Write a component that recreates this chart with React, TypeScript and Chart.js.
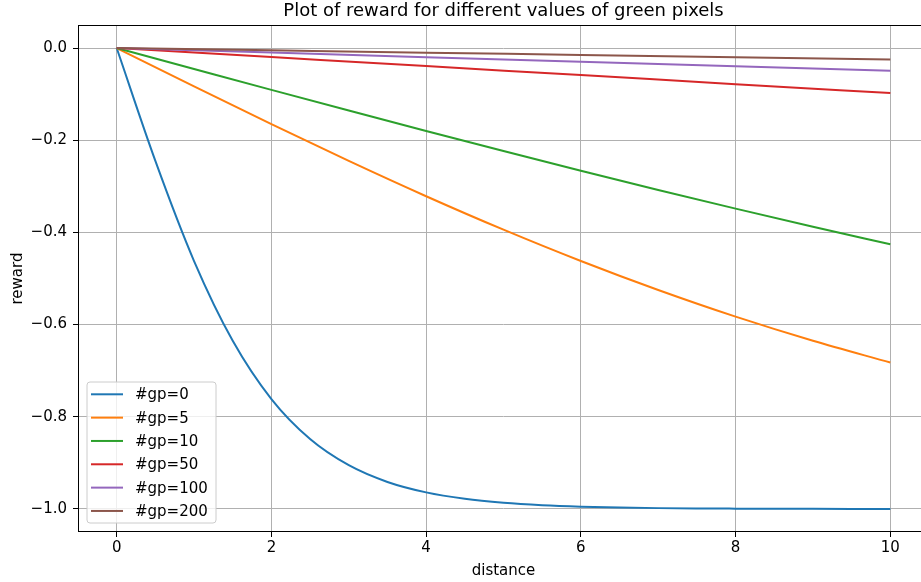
import React, { useEffect, useRef } from 'react';
import { Chart, registerables } from 'chart.js';

Chart.register(...registerables);

const chartTitle = 'Plot of reward for different values of green pixels';
const xAxisLabel = 'distance';
const yAxisLabel = 'reward';

const distanceFine = [0, 0.5, 1, 1.5, 2, 2.5, 3, 3.5, 4, 4.5, 5, 5.5, 6, 6.5, 7, 7.5, 8, 8.5, 9, 9.5, 10];
const rewardGp0 = [0, -0.2449, -0.4621, -0.6351, -0.7616, -0.8483, -0.9051, -0.9414, -0.964, -0.978, -0.9866, -0.9919, -0.9951, -0.997, -0.9982, -0.9989, -0.9993, -0.9996, -0.9998, -0.9999, -0.9999];

const distanceCoarse = [0, 1, 2, 3, 4, 5, 6, 7, 8, 9, 10];
const rewardGp5 = [0, -0.0831, -0.1651, -0.2449, -0.3215, -0.3941, -0.4621, -0.525, -0.5828, -0.6351, -0.6823];
const rewardGp10 = [0, -0.0454, -0.0907, -0.1355, -0.1798, -0.2234, -0.2662, -0.3079, -0.3484, -0.3877, -0.4256];

const distanceSparse = [0, 2, 4, 6, 8, 10];
const rewardGp50 = [0, -0.0196, -0.0392, -0.0587, -0.0783, -0.0977];
const rewardGp100 = [0, -0.0099, -0.0198, -0.0297, -0.0396, -0.0495];
const rewardGp200 = [0, -0.005, -0.01, -0.0149, -0.0199, -0.0249];

const seriesLabels = ['#gp=0', '#gp=5', '#gp=10', '#gp=50', '#gp=100', '#gp=200'];
const seriesColors = ['#1f77b4', '#ff7f0e', '#2ca02c', '#d62728', '#9467bd', '#8c564b'];
const seriesX = [distanceFine, distanceCoarse, distanceCoarse, distanceSparse, distanceSparse, distanceSparse];
const seriesY = [rewardGp0, rewardGp5, rewardGp10, rewardGp50, rewardGp100, rewardGp200];

const xTickValues = [0, 2, 4, 6, 8, 10];
const yTickValues = [0, -0.2, -0.4, -0.6, -0.8, -1.0];

const FONT = '"DejaVu Sans", sans-serif';

const framePlugin = {
  id: 'frameAndLegend',
  afterDatasetsDraw(chart: any) {
    const { ctx, chartArea } = chart;
    ctx.save();
    const l = Math.round(chartArea.left) + 0.5;
    const t = Math.round(chartArea.top) + 0.5;
    const rr = Math.round(chartArea.right) - 0.5;
    const b = Math.round(chartArea.bottom) - 0.5;
    ctx.strokeStyle = '#000000';
    ctx.lineWidth = 1;
    ctx.strokeRect(l, t, rr - l, b - t);

    // title centred over the axes
    ctx.fillStyle = '#000000';
    ctx.font = `18px ${FONT}`;
    ctx.textAlign = 'center';
    ctx.textBaseline = 'middle';
    ctx.fillText(chartTitle, (chartArea.left + chartArea.right) / 2, chartArea.top - 14);

    // legend (lower left, inside axes)
    const boxX = chartArea.left + 9;
    const boxW = 129;
    const boxH = 141;
    const boxY = chartArea.bottom - 9 - boxH;
    const r = 3;
    ctx.beginPath();
    ctx.moveTo(boxX + r, boxY);
    ctx.lineTo(boxX + boxW - r, boxY);
    ctx.quadraticCurveTo(boxX + boxW, boxY, boxX + boxW, boxY + r);
    ctx.lineTo(boxX + boxW, boxY + boxH - r);
    ctx.quadraticCurveTo(boxX + boxW, boxY + boxH, boxX + boxW - r, boxY + boxH);
    ctx.lineTo(boxX + r, boxY + boxH);
    ctx.quadraticCurveTo(boxX, boxY + boxH, boxX, boxY + boxH - r);
    ctx.lineTo(boxX, boxY + r);
    ctx.quadraticCurveTo(boxX, boxY, boxX + r, boxY);
    ctx.closePath();
    ctx.fillStyle = 'rgba(255,255,255,0.8)';
    ctx.fill();
    ctx.strokeStyle = '#cccccc';
    ctx.lineWidth = 1;
    ctx.stroke();

    ctx.font = `15px ${FONT}`;
    ctx.textBaseline = 'middle';
    ctx.textAlign = 'left';
    chart.data.datasets.forEach((ds: any, i: number) => {
      const y = boxY + 12.3 + i * 23.33;
      ctx.strokeStyle = ds.borderColor;
      ctx.lineWidth = 2;
      ctx.beginPath();
      ctx.moveTo(boxX + 4, y);
      ctx.lineTo(boxX + 36, y);
      ctx.stroke();
      ctx.fillStyle = '#000000';
      ctx.fillText(ds.label, boxX + 48, y + 1);
    });
    ctx.restore();
  },
};

export default function App() {
  const canvasRef = useRef<HTMLCanvasElement | null>(null);

  useEffect(() => {
    if (!canvasRef.current) return;
    const datasets = seriesLabels.map((label, i) => ({
      label,
      data: seriesX[i].map((x, j) => ({ x, y: seriesY[i][j] })),
      borderColor: seriesColors[i],
      backgroundColor: seriesColors[i],
      borderWidth: 2,
      pointRadius: 0,
      fill: false,
      cubicInterpolationMode: 'monotone' as const,
      order: seriesLabels.length - i,
    }));

    const chart = new Chart(canvasRef.current, {
      type: 'line',
      data: { datasets },
      options: {
        animation: false,
        responsive: false,
        devicePixelRatio: 1,
        layout: { padding: { left: 0, right: 11, top: 25, bottom: 0 } },
        plugins: {
          legend: { display: false },
          tooltip: { enabled: false },
          title: { display: false },
        },
        scales: {
          x: {
            type: 'linear',
            min: -0.5,
            max: 10.5,
            afterBuildTicks: (scale: any) => {
              scale.ticks = xTickValues.map((v) => ({ value: v }));
            },
            afterFit: (scale: any) => {
              scale.height = 50;
            },
            ticks: {
              color: '#000000',
              font: { family: FONT, size: 15 },
              padding: 2,
              maxRotation: 0,
              callback: (v: any) => String(v),
            },
            grid: { color: '#b0b0b0', lineWidth: 1, drawTicks: true, tickLength: 5, tickColor: '#000000' },
            border: { display: false },
            title: {
              display: true,
              text: xAxisLabel,
              color: '#000000',
              font: { family: FONT, size: 15 },
              padding: { top: 0, bottom: 2 },
            },
          },
          y: {
            type: 'linear',
            min: -1.05,
            max: 0.05,
            afterBuildTicks: (scale: any) => {
              scale.ticks = yTickValues.map((v) => ({ value: v }));
            },
            afterFit: (scale: any) => {
              scale.width = 78;
            },
            ticks: {
              color: '#000000',
              font: { family: FONT, size: 15 },
              padding: 6,
              callback: (v: any) => Number(v).toFixed(1).replace('-', '\u2212'),
            },
            grid: { color: '#b0b0b0', lineWidth: 1, drawTicks: true, tickLength: 5, tickColor: '#000000' },
            border: { display: false },
            title: {
              display: true,
              text: yAxisLabel,
              color: '#000000',
              font: { family: FONT, size: 15 },
              padding: { top: 9, bottom: 0 },
            },
          },
        },
      },
      plugins: [framePlugin],
    });
    return () => chart.destroy();
  }, []);

  return (
    <div style={{ position: 'fixed', left: 0, top: 0, width: 921, height: 582, overflow: 'hidden', background: '#ffffff' }}>
      <canvas ref={canvasRef} width={940} height={582} style={{ display: 'block' }} />
    </div>
  );
}
